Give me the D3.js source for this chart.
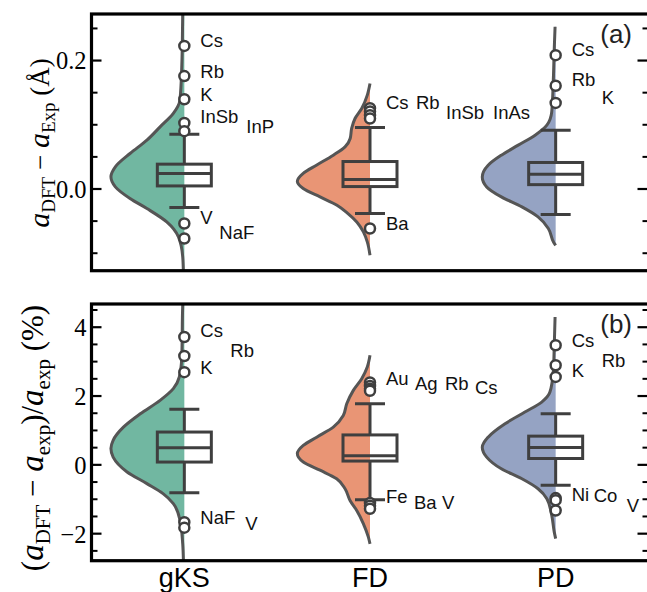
<!DOCTYPE html>
<html><head><meta charset="utf-8">
<script src="https://cdn.jsdelivr.net/npm/d3@7"></script>
<style>body{margin:0;background:#fff} svg{display:block}</style>
</head><body><svg id="c" width="647" height="592"></svg>
<script>
// ---------------- DATA ----------------
const categories = ["gKS", "FD", "PD"];

// Panel (a): a_DFT - a_Exp (Å)
const majorTicksA = [0.0, 0.2];
const tickLabelsA = ["0.0", "0.2"];
const minorTicksA = [-0.1, -0.05, 0.05, 0.1, 0.15, 0.25];
// box stats per category: [q1, median, q3, whiskerLow, whiskerHigh]
const boxA = [
  [0.004, 0.0234, 0.0379, -0.0296, 0.0846],
  [0.003, 0.014, 0.042, -0.039, 0.095],
  [0.006, 0.0223, 0.0405, -0.0405, 0.0905]
];
// violin density profiles: [value, relative density]
const densA_gKS = [[0.285,0.02],[0.2716,0.022],[0.1895,0.035],[0.1376,0.06],[0.1169,0.15],[0.096,0.33],[0.0753,0.51],[0.0545,0.74],[0.0337,0.94],[0.0181,1.0],[0.0025,0.94],[-0.0156,0.74],[-0.0312,0.51],[-0.052,0.24],[-0.0754,0.08],[-0.1066,0.022],[-0.135,0.012]];
const densA_FD = [[0.1636,0],[0.1454,0.037],[0.1247,0.113],[0.109,0.204],[0.0935,0.25],[0.0779,0.27],[0.0648,0.34],[0.0519,0.5],[0.0363,0.73],[0.0234,0.91],[0.0114,0.99],[0,0.91],[-0.0131,0.68],[-0.026,0.45],[-0.039,0.30],[-0.052,0.18],[-0.0676,0.09],[-0.0832,0.037],[-0.104,0]];
const densA_PD = [[0.2518,0.008],[0.2182,0.019],[0.166,0.033],[0.119,0.054],[0.0986,0.12],[0.083,0.28],[0.0675,0.51],[0.0519,0.74],[0.0363,0.92],[0.018,1.0],[0.0025,0.94],[-0.0131,0.74],[-0.0287,0.46],[-0.0442,0.24],[-0.0623,0.10],[-0.0832,0.03],[-0.0885,0]];
// outliers: [name, value]
const outA_gKS = [["Cs",0.222],["Rb",0.175],["K",0.139],["InSb",0.102],["InP",0.0893],["V",-0.0545],["NaF",-0.0779]];
const outA_FD = [["Cs",0.125],["Rb",0.12],["InSb",0.114],["InAs",0.109],["Ba",-0.0623]];
const outA_PD = [["Cs",0.2076],["Rb",0.16],["K",0.1333]];

// Panel (b): (a_DFT - a_exp)/a_exp (%)
const majorTicksB = [-2, 0, 2, 4];
const tickLabelsB = ["\u22122", "0", "2", "4"];
const minorTicksB = [-2.5, -1.5, -1, -0.5, 0.5, 1, 1.5, 2.5, 3, 3.5, 4.5];
const boxB = [
  [0.067, 0.485, 0.939, -0.823, 1.6],
  [0.096, 0.25, 0.855, -1.03, 1.76],
  [0.17, 0.49, 0.82, -0.61, 1.47]
];
const densB_gKS = [[4.70,0.02],[4.62,0.022],[3.12,0.035],[2.54,0.068],[2.2,0.15],[1.86,0.33],[1.47,0.60],[1.08,0.83],[0.70,0.97],[0.46,1.0],[0.21,0.97],[-0.22,0.78],[-0.56,0.51],[-0.85,0.29],[-1.14,0.15],[-1.63,0.059],[-2.31,0.022],[-2.85,0.012]];
const densB_FD = [[3.17,0],[2.83,0.037],[2.49,0.113],[2.15,0.227],[1.76,0.317],[1.42,0.364],[1.08,0.5],[0.79,0.726],[0.55,0.909],[0.31,0.99],[0.07,0.909],[-0.17,0.681],[-0.42,0.454],[-0.71,0.34],[-1.05,0.272],[-1.34,0.181],[-1.72,0.091],[-2.11,0.023],[-2.31,0]];
const densB_PD = [[4.28,0.008],[3.46,0.019],[2.68,0.033],[2.10,0.078],[1.81,0.19],[1.52,0.42],[1.18,0.69],[0.79,0.92],[0.50,1.0],[0.21,0.94],[-0.13,0.74],[-0.42,0.46],[-0.71,0.24],[-1.0,0.12],[-1.48,0.054],[-1.97,0.019],[-2.16,0]];
const outB_gKS = [["Cs",3.70],["Rb",3.15],["K",2.68],["NaF",-1.68],["V",-1.84]];
const outB_FD = [["Au",2.38],["Ag",2.28],["Rb",2.20],["Cs",2.14],["Fe",-1.12],["Ba",-1.20],["V",-1.29]];
const outB_PD = [["Cs",3.46],["Rb",2.88],["K",2.54],["Ni",-0.98],["Co",-1.04],["V",-1.34]];

// ---------------- LAYOUT (annotation placement) ----------------
// [dx in px from category centre, label centre in data units]
const labA_gKS = [[16,0.231],[16,0.183],[16,0.147],[16,0.1116],[62,0.097],[16,-0.0443],[35,-0.068]];
const labA_FD = [[16,0.134],[46,0.134],[76,0.118],[123,0.118],[16,-0.0536]];
const labA_PD = [[16,0.217],[16,0.170],[46,0.1415]];
const labB_gKS = [[16,3.89],[46,3.30],[16,2.83],[16,-1.55],[61,-1.715]];
const labB_FD = [[16,2.51],[45,2.35],[75,2.35],[105,2.25],[16,-0.93],[44,-1.10],[72,-1.10]];
const labB_PD = [[16,3.61],[46,3.02],[16,2.72],[16,-0.87],[38,-0.90],[71,-1.19]];

// ---------------- STYLE ----------------
const fillColors = ["#71b7a1", "#e99575", "#95a3c3"];
const violinStroke = "#555555";
const boxStroke = "#3f3f3f";
const serif = "'Liberation Serif', 'Times New Roman', serif";
const sans = "'Liberation Sans', Arial, sans-serif";
const left = 91.5, right = 648.5;

const svg = d3.select("#c");
const x = d3.scaleBand().domain(categories).range([left, right]).padding(0);
const halfW = d3.scaleLinear().domain([0, 1]).range([0, 73.4]);

function panel(cfg) {
  const y = d3.scaleLinear().domain(cfg.domain).range([cfg.bottom, cfg.top]);
  const g = svg.append("g");
  const clipId = "clip" + cfg.name;
  svg.append("clipPath").attr("id", clipId).append("rect")
    .attr("x", left).attr("y", cfg.top).attr("width", right - left).attr("height", cfg.bottom - cfg.top);
  const plot = g.append("g").attr("clip-path", `url(#${clipId})`);

  categories.forEach((c, i) => {
    const cx = x(c) + x.bandwidth() / 2;
    const dens = cfg.dens[i];
    const area = d3.area().curve(d3.curveMonotoneY)
      .y(d => y(d[0])).x0(cx).x1(d => cx - halfW(d[1]));
    const line = d3.line().curve(d3.curveMonotoneY)
      .y(d => y(d[0])).x(d => cx - halfW(d[1]));
    plot.append("path").attr("d", area(dens)).attr("fill", fillColors[i]).attr("stroke", "none");
    plot.append("path").attr("d", line(dens)).attr("fill", "none")
      .attr("stroke", violinStroke).attr("stroke-width", 3).attr("stroke-linejoin", "round");

    const [q1, med, q3, lo, hi] = cfg.box[i];
    const bw = 27, cw = 15;
    const bg = plot.append("g").attr("stroke", boxStroke).attr("stroke-width", 3).attr("fill", "none");
    bg.append("line").attr("x1", cx).attr("x2", cx).attr("y1", y(hi)).attr("y2", y(q3));
    bg.append("line").attr("x1", cx).attr("x2", cx).attr("y1", y(q1)).attr("y2", y(lo));
    bg.append("line").attr("x1", cx - cw).attr("x2", cx + cw).attr("y1", y(hi)).attr("y2", y(hi));
    bg.append("line").attr("x1", cx - cw).attr("x2", cx + cw).attr("y1", y(lo)).attr("y2", y(lo));
    bg.append("rect").attr("x", cx - bw).attr("width", 2 * bw).attr("y", y(q3)).attr("height", y(q1) - y(q3));
    bg.append("line").attr("x1", cx - bw).attr("x2", cx + bw).attr("y1", y(med)).attr("y2", y(med));

    plot.selectAll(null).data(cfg.out[i]).enter().append("circle")
      .attr("cx", cx).attr("cy", d => y(d[1])).attr("r", 5)
      .attr("fill", "#fff").attr("stroke", boxStroke).attr("stroke-width", 2.5);

    g.selectAll(null).data(cfg.out[i]).enter().append("text")
      .attr("x", (d, k) => cx + cfg.lab[i][k][0])
      .attr("y", (d, k) => y(cfg.lab[i][k][1]))
      .attr("dy", "0.36em")
      .style("font-family", sans)
      .attr("font-size", 18.5).attr("fill", "#111")
      .text(d => d[0]);
  });

  // frame
  g.append("rect").attr("x", left).attr("y", cfg.top).attr("width", right - left + 2).attr("height", cfg.bottom - cfg.top)
    .attr("fill", "none").attr("stroke", "#000").attr("stroke-width", 3.2);

  // ticks: left and right, inward
  const axL = d3.axisLeft(y).tickValues(cfg.major).tickSize(-10).tickSizeOuter(0)
    .tickFormat((d, k) => cfg.tickLabels[k]).tickPadding(5);
  const gL = g.append("g").attr("transform", `translate(${left},0)`).call(axL);
  gL.select(".domain").remove();
  gL.selectAll(".tick line").attr("stroke", "#000").attr("stroke-width", 2.2);
  gL.selectAll(".tick text").style("font-family", serif)
    .style("font-size", "24.5px").attr("fill", "#000").attr("dy", "0.36em");
  const axLm = d3.axisLeft(y).tickValues(cfg.minor).tickSize(-6).tickSizeOuter(0).tickFormat("");
  const gLm = g.append("g").attr("transform", `translate(${left},0)`).call(axLm);
  gLm.select(".domain").remove();
  gLm.selectAll(".tick line").attr("stroke", "#000").attr("stroke-width", 2);

  const rx = 647.5;
  const axR = d3.axisRight(y).tickValues(cfg.major).tickSize(-10).tickSizeOuter(0).tickFormat("");
  const gR = g.append("g").attr("transform", `translate(${rx},0)`).call(axR);
  gR.select(".domain").remove();
  gR.selectAll(".tick line").attr("stroke", "#000").attr("stroke-width", 2.2);
  const axRm = d3.axisRight(y).tickValues(cfg.minor).tickSize(-5).tickSizeOuter(0).tickFormat("");
  const gRm = g.append("g").attr("transform", `translate(${rx},0)`).call(axRm);
  gRm.select(".domain").remove();
  gRm.selectAll(".tick line").attr("stroke", "#000").attr("stroke-width", 2);

  // panel tag
  g.append("text").attr("x", 632).attr("y", cfg.top + 29).attr("text-anchor", "end")
    .style("font-family", sans).attr("font-size", 26).attr("fill", "#222")
    .text(cfg.tag);

  // y label
  const f = cfg.labelFont;
  const t = g.append("text")
    .attr("transform", `translate(${cfg.labelX},${cfg.labelY}) rotate(-90)`)
    .attr("text-anchor", "middle")
    .style("font-family", serif).attr("font-size", f[0]).attr("fill", "#000");
  cfg.ylabel.forEach(p => {
    const s = t.append("tspan").text(p.t);
    if (p.it) s.attr("font-style", "italic").attr("font-size", f[1]);
    if (p.sub) s.attr("font-size", f[2]).attr("dy", f[3]);
    if (p.up) s.attr("dy", -f[3]);
  });
}

panel({
  name: "a", domain: [-0.128, 0.2717], top: 14, bottom: 270.7,
  major: majorTicksA, tickLabels: tickLabelsA, minor: minorTicksA,
  box: boxA, dens: [densA_gKS, densA_FD, densA_PD],
  out: [outA_gKS, outA_FD, outA_PD], lab: [labA_gKS, labA_FD, labA_PD],
  tag: "(a)", labelX: 49, labelY: 143, labelFont: [27, 30, 19, 6],
  ylabel: [{t:"a", it:1}, {t:"DFT", sub:1}, {t:" \u2212 ", up:1}, {t:"a", it:1}, {t:"Exp", sub:1}, {t:" (\u00C5)", up:1}]
});
panel({
  name: "b", domain: [-2.80, 4.66], top: 304, bottom: 560.7,
  major: majorTicksB, tickLabels: tickLabelsB, minor: minorTicksB,
  box: boxB, dens: [densB_gKS, densB_FD, densB_PD],
  out: [outB_gKS, outB_FD, outB_PD], lab: [labB_gKS, labB_FD, labB_PD],
  tag: "(b)", labelX: 43, labelY: 438, labelFont: [31, 33, 21, 7],
  ylabel: [{t:"("}, {t:"a", it:1}, {t:"DFT", sub:1}, {t:" \u2212 ", up:1}, {t:"a", it:1}, {t:"exp", sub:1}, {t:")/", up:1}, {t:"a", it:1}, {t:"exp", sub:1}, {t:" (%)", up:1}]
});

// category labels
svg.append("g").selectAll("text").data(categories).enter().append("text")
  .attr("x", d => x(d) + x.bandwidth() / 2).attr("y", 587)
  .attr("text-anchor", "middle")
  .style("font-family", sans).attr("font-size", 27).attr("fill", "#000")
  .text(d => d);
</script>
</body></html>
